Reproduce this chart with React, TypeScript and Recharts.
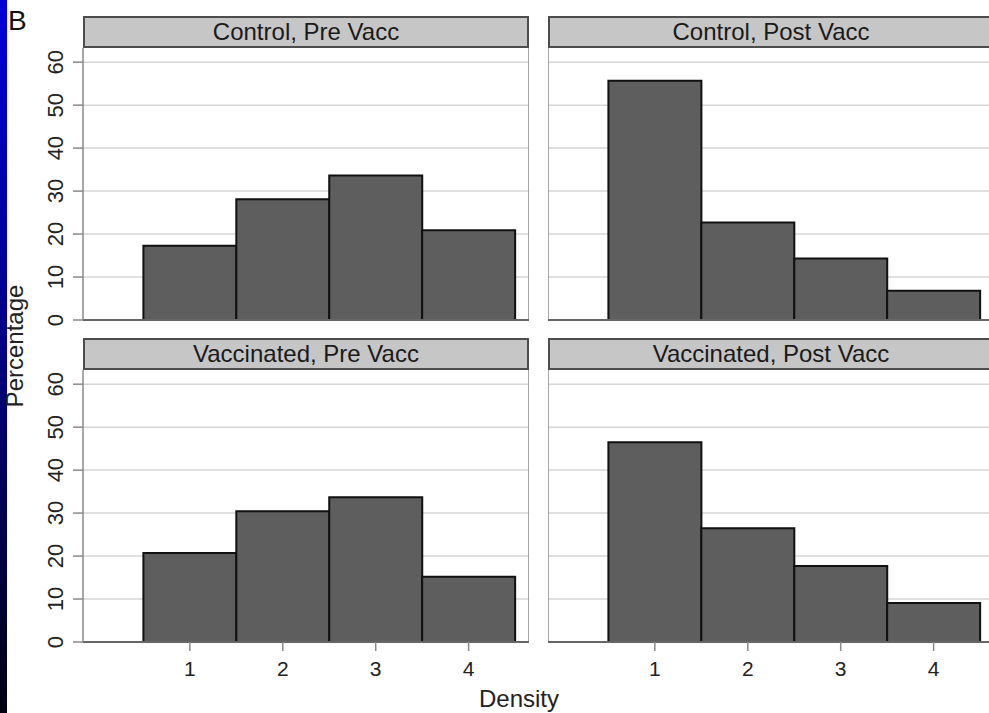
import { BarChart, Bar, XAxis, YAxis, CartesianGrid, ReferenceLine } from 'recharts';

// density score categories (x axis)
const densityLevels = [1, 2, 3, 4];

// percentages per panel
const controlPre = [17.3, 28.1, 33.6, 20.9];
const controlPost = [55.7, 22.7, 14.3, 6.8];
const vaccinatedPre = [20.7, 30.4, 33.7, 15.2];
const vaccinatedPost = [46.5, 26.5, 17.7, 9.1];

const panelTitles = ['Control, Pre Vacc', 'Control, Post Vacc', 'Vaccinated, Pre Vacc', 'Vaccinated, Post Vacc'];
const yTicks = [0, 10, 20, 30, 40, 50, 60];

const X_DOMAIN: [number, number] = [-0.15, 4.65];
const Y_DOMAIN: [number, number] = [0, 63.3];

const FONT = '"Liberation Sans", Arial, Helvetica, sans-serif';
const PLOT_W = 446;
const PLOT_H = 272;
const Y_AXIS_W = 53;
const X_AXIS_H = 40;
const HEADER_H = 32;
const LABEL_ROOM = 14; // keeps the rotated "0" label inside the svg on top panels
const FRAME = '#8a8a8a';
const TEXT = '#222';

function RotatedTick(props: any) {
  const { x, y, payload } = props;
  const bx = x - 8;
  return (
    <text
      x={bx}
      y={y}
      transform={`rotate(-90, ${bx}, ${y})`}
      textAnchor="middle"
      fontSize={22}
      fontFamily={FONT}
      fill={TEXT}
    >
      {payload.value}
    </text>
  );
}

interface PanelProps {
  title: string;
  values: number[];
  plotLeft: number;
  plotTop: number;
  showY: boolean;
  showX: boolean;
}

function Panel({ title, values, plotLeft, plotTop, showY, showX }: PanelProps) {
  const rows = densityLevels.map((d, i) => ({ density: d, pct: values[i] }));
  const chartLeft = showY ? plotLeft - Y_AXIS_W : plotLeft;
  const bottomRoom = showX ? 0 : LABEL_ROOM;

  return (
    <>
      <div
        style={{
          position: 'absolute',
          left: plotLeft,
          top: plotTop - HEADER_H,
          width: PLOT_W,
          height: HEADER_H,
          boxSizing: 'border-box',
          border: '2px solid #4d4d4d',
          background: '#c6c6c6',
          textAlign: 'center',
          fontFamily: FONT,
          fontSize: 24,
          lineHeight: '28px',
          color: '#1a1a1a',
          whiteSpace: 'nowrap'
        }}
      >
        {title}
      </div>
      <div style={{ position: 'absolute', left: chartLeft, top: plotTop }}>
        <BarChart
          width={(showY ? Y_AXIS_W : 0) + PLOT_W}
          height={PLOT_H + (showX ? X_AXIS_H : bottomRoom)}
          data={rows}
          margin={{ top: 0, right: 0, bottom: bottomRoom, left: 0 }}
          barCategoryGap={0}
          barGap={0}
        >
          <CartesianGrid vertical={false} horizontalValues={yTicks} stroke="#d6d6d6" strokeWidth={1.5} />
          <XAxis
            type="number"
            dataKey="density"
            domain={X_DOMAIN}
            allowDataOverflow
            ticks={densityLevels}
            interval={0}
            hide={!showX}
            height={X_AXIS_H}
            tickSize={9}
            tickMargin={10}
            axisLine={{ stroke: '#666', strokeWidth: 2 }}
            tickLine={{ stroke: FRAME, strokeWidth: 1.5 }}
            tick={{ fontSize: 21, fontFamily: FONT, fill: TEXT }}
          />
          <YAxis
            type="number"
            domain={Y_DOMAIN}
            allowDataOverflow
            ticks={yTicks}
            interval={0}
            hide={!showY}
            width={Y_AXIS_W}
            tickSize={10}
            axisLine={{ stroke: FRAME, strokeWidth: 1.5 }}
            tickLine={{ stroke: FRAME, strokeWidth: 1.5 }}
            tick={<RotatedTick />}
          />
          <Bar dataKey="pct" fill="#5e5e5e" stroke="#111" strokeWidth={2} isAnimationActive={false} />
          {!showY && <ReferenceLine x={X_DOMAIN[0]} stroke={FRAME} strokeWidth={1.5} />}
          <ReferenceLine x={X_DOMAIN[1]} stroke={FRAME} strokeWidth={1.5} />
          {!showX && <ReferenceLine y={0} stroke="#666" strokeWidth={2} />}
        </BarChart>
      </div>
    </>
  );
}

export default function App() {
  return (
    <div
      style={{
        position: 'absolute',
        left: 0,
        top: 0,
        width: 989,
        height: 713,
        overflow: 'hidden',
        background: '#fff'
      }}
    >
      <div
        style={{
          position: 'absolute',
          left: 0,
          top: 0,
          width: 7,
          height: 713,
          background: 'linear-gradient(to bottom, #0000d8 0%, #00008a 45%, #000012 100%)'
        }}
      />
      <Panel title={panelTitles[0]} values={controlPre} plotLeft={83} plotTop={48} showY showX={false} />
      <Panel title={panelTitles[1]} values={controlPost} plotLeft={548} plotTop={48} showY={false} showX={false} />
      <Panel title={panelTitles[2]} values={vaccinatedPre} plotLeft={83} plotTop={370} showY showX />
      <Panel title={panelTitles[3]} values={vaccinatedPost} plotLeft={548} plotTop={370} showY={false} showX />
      <svg
        width={989}
        height={713}
        style={{ position: 'absolute', left: 0, top: 0, pointerEvents: 'none' }}
      >
        <text x={8} y={30} fontSize={28} fontFamily={FONT} fill="#111">B</text>
        <text
          x={23}
          y={346}
          transform="rotate(-90, 23, 346)"
          textAnchor="middle"
          fontSize={24}
          fontFamily={FONT}
          fill={TEXT}
        >
          Percentage
        </text>
        <text x={519} y={707} textAnchor="middle" fontSize={24} fontFamily={FONT} fill={TEXT}>
          Density
        </text>
      </svg>
    </div>
  );
}
